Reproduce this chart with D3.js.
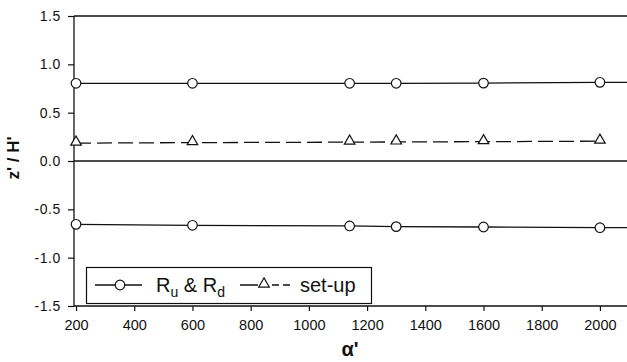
<!doctype html>
<html lang="en">
<head>
  <meta charset="utf-8">
  <title>z'/H' vs alpha'</title>
  <script src="https://d3js.org/d3.v7.min.js"></script>
  <style>
    body { margin: 0; background: #fff; }
    svg text { font-family: "Liberation Sans", Arial, sans-serif; fill: #111; }
    .tick-label { font-size: 14px; }
    .axis-title { font-weight: bold; }
  </style>
</head>
<body>
<div id="chart"></div>
<script>
// values
const alphaVals = [200, 600, 1140, 1300, 1600, 2000];
const runUp = [0.804, 0.804, 0.804, 0.804, 0.806, 0.814];     // R_u
const runDown = [-0.655, -0.665, -0.672, -0.679, -0.683, -0.69]; // R_d
const setUp = [0.185, 0.19, 0.195, 0.197, 0.2, 0.205];
const xTicks = [200, 400, 600, 800, 1000, 1200, 1400, 1600, 1800, 2000];
const yTicks = [-1.5, -1.0, -0.5, 0.0, 0.5, 1.0, 1.5];

const width = 627, height = 362;
const svg = d3.select('#chart').append('svg')
  .attr('width', width)
  .attr('height', height);

// plot area runs off the right edge of the picture
const x = d3.scaleLinear().domain([193, 2093]).range([74, 627]);
const y = d3.scaleLinear().domain([-1.5, 1.5]).range([306, 16]);

// frame lines: left axis, bottom axis, top line, zero line
const frame = svg.append('g').attr('stroke', '#111').attr('stroke-width', 1.3);
frame.append('line').attr('x1', x.range()[0]).attr('x2', x.range()[0]).attr('y1', y(-1.5)).attr('y2', y(1.5));
frame.append('line').attr('x1', x.range()[0]).attr('x2', x.range()[1]).attr('y1', y(-1.5)).attr('y2', y(-1.5));
frame.append('line').attr('x1', x.range()[0]).attr('x2', x.range()[1]).attr('y1', y(1.5)).attr('y2', y(1.5));
frame.append('line').attr('x1', x.range()[0]).attr('x2', x.range()[1]).attr('y1', y(0)).attr('y2', y(0));

// y axis
const yAxis = d3.axisLeft(y).tickValues(yTicks).tickSize(6).tickPadding(7);
const gy = svg.append('g').attr('transform', `translate(${x.range()[0]},0)`).call(yAxis);
gy.select('.domain').remove();
gy.selectAll('line').attr('stroke', '#111').attr('stroke-width', 1.2);
gy.selectAll('text').attr('class', 'tick-label').style('letter-spacing', '0.6px')
  .text(d => d3.format('.1f')(d).replace('\u2212', '-'));

// x axis
const xAxis = d3.axisBottom(x).tickValues(xTicks).tickFormat(d3.format('d')).tickSize(5).tickPadding(9);
const gx = svg.append('g').attr('transform', `translate(0,${y(-1.5)})`).call(xAxis);
gx.select('.domain').remove();
gx.selectAll('line').attr('stroke', '#111').attr('stroke-width', 1.2);
gx.selectAll('text').attr('class', 'tick-label').style('font-size', '14.5px');

// axis titles
svg.append('text').attr('class', 'axis-title')
  .attr('transform', `translate(19,${y(0) - 3}) rotate(-90)`)
  .attr('text-anchor', 'middle').style('font-size', '17px')
  .text("z' / H'");
svg.append('text').attr('class', 'axis-title')
  .attr('x', 350).attr('y', 356).attr('text-anchor', 'middle').style('font-size', '20px')
  .text("\u03b1'");

const line = d3.line().x(d => x(d[0])).y(d => y(d[1]));

function drawSeries(vals, dash, extend) {
  const pts = alphaVals.map((a, i) => [a, vals[i]]);
  if (extend) pts.push([x.domain()[1], vals[vals.length - 1]]);
  svg.append('path').datum(pts)
    .attr('d', line)
    .attr('fill', 'none')
    .attr('stroke', '#111')
    .attr('stroke-width', 1.3)
    .attr('stroke-dasharray', dash);
}

drawSeries(runUp, null, true);
drawSeries(runDown, null, true);
drawSeries(setUp, '15,6', false);

const tri = d3.symbol().type(d3.symbolTriangle).size(48);

function drawCircles(vals) {
  svg.append('g').selectAll('circle')
    .data(alphaVals.map((a, i) => [a, vals[i]]))
    .join('circle')
    .attr('cx', d => x(d[0]))
    .attr('cy', d => y(d[1]))
    .attr('r', 4.8)
    .attr('fill', '#fff')
    .attr('stroke', '#111')
    .attr('stroke-width', 1.2);
}
drawCircles(runUp);
drawCircles(runDown);

svg.append('g').selectAll('path')
  .data(alphaVals.map((a, i) => [a, setUp[i]]))
  .join('path')
  .attr('d', tri)
  .attr('transform', d => `translate(${x(d[0])},${y(d[1]) - 1})`)
  .attr('fill', '#fff')
  .attr('stroke', '#111')
  .attr('stroke-width', 1.2);

// legend
const legend = svg.append('g');
legend.append('rect')
  .attr('x', 86.5).attr('y', 267.5).attr('width', 285).attr('height', 36)
  .attr('fill', '#fff').attr('stroke', '#111').attr('stroke-width', 1.2);
const ly = 285;
legend.append('line').attr('x1', 95).attr('x2', 142).attr('y1', ly).attr('y2', ly)
  .attr('stroke', '#111').attr('stroke-width', 1.3);
legend.append('circle').attr('cx', 120).attr('cy', ly).attr('r', 4.8)
  .attr('fill', '#fff').attr('stroke', '#111').attr('stroke-width', 1.2);
const t1 = legend.append('text').attr('x', 156).attr('y', ly + 7).style('font-size', '20px');
t1.append('tspan').text('R');
t1.append('tspan').attr('dy', 5).style('font-size', '14px').text('u');
t1.append('tspan').attr('dy', -5).text(' & R');
t1.append('tspan').attr('dy', 5).style('font-size', '14px').text('d');

legend.append('line').attr('x1', 240).attr('x2', 290).attr('y1', ly).attr('y2', ly)
  .attr('stroke', '#111').attr('stroke-width', 1.3).attr('stroke-dasharray', '18,4,6,4,7,4');
legend.append('path').attr('d', tri).attr('transform', `translate(264,${ly - 1})`)
  .attr('fill', '#fff').attr('stroke', '#111').attr('stroke-width', 1.2);
legend.append('text').attr('x', 300).attr('y', ly + 7).style('font-size', '20px').text('set-up');
</script>
</body>
</html>
